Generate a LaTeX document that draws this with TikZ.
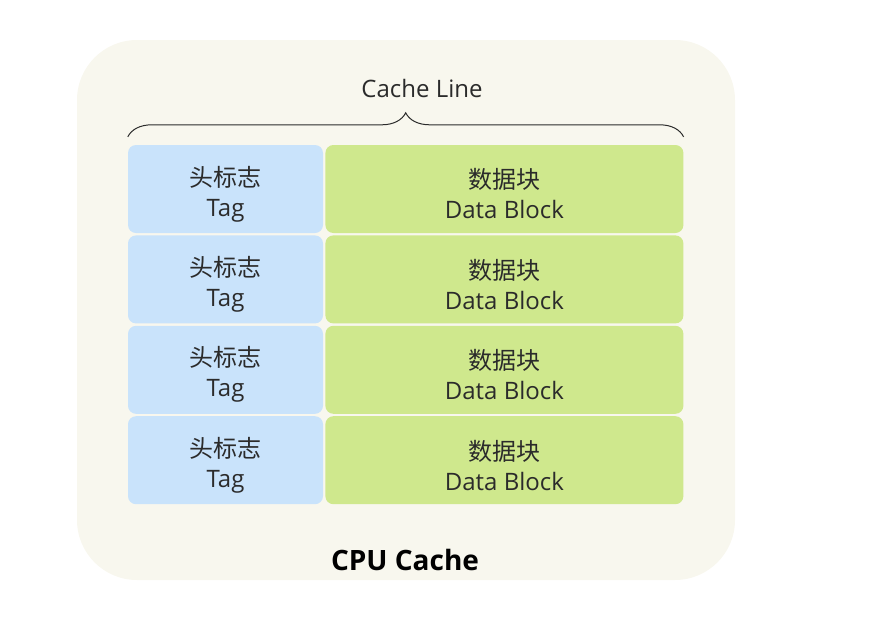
\documentclass[tikz,border=0pt]{standalone}
\usepackage{fontspec}
\setmainfont{Open Sans}
\newfontfamily\cjk{Noto Sans CJK SC}
\usepackage{tikz}
\usetikzlibrary{positioning,decorations.pathreplacing}
\definecolor{cachebg}{HTML}{F8F7EE}
\definecolor{tagblue}{HTML}{C9E3FB}
\definecolor{datagreen}{HTML}{CFE88D}
\definecolor{inktext}{HTML}{2B2B2B}
% chinese name on top, english name below
\newcommand{\celltext}[2]{\rule{0pt}{30pt}{\cjk #1}\\#2}

\begin{document}
\begin{tikzpicture}[x=1pt,y=-1pt,
    cell/.style={rounded corners=8pt, inner sep=0pt, align=center,
        font=\fontsize{24}{30}\selectfont, text=inktext, minimum height=88pt},
    tagcell/.style={cell, fill=tagblue, minimum width=195pt},
    datacell/.style={cell, fill=datagreen, minimum width=358pt}]
    \useasboundingbox (0,0) rectangle (895,638);
    % the cache background
    \fill[cachebg, rounded corners=60pt] (77,40) rectangle (735,580);

    % the lines: tag on the left, data block on the right
    \node[tagcell] (tag1) at (225.5,189) {\celltext{头标志}{Tag}};
    \node[tagcell, below=2pt of tag1] (tag2) {\celltext{头标志}{Tag}};
    \node[tagcell, below=2pt of tag2] (tag3) {\celltext{头标志}{Tag}};
    \node[tagcell, below=2pt of tag3] (tag4) {\celltext{头标志}{Tag}};
    %
    \node[datacell, right=2pt of tag1] (data1) {\celltext{数据块}{Data Block}};
    \node[datacell, right=2pt of tag2] (data2) {\celltext{数据块}{Data Block}};
    \node[datacell, right=2pt of tag3] (data3) {\celltext{数据块}{Data Block}};
    \node[datacell, right=2pt of tag4] (data4) {\celltext{数据块}{Data Block}};

    % the brace over one line
    \coordinate (braceL) at ([yshift=8pt]tag1.north west);
    \coordinate (braceR) at ([yshift=8pt]data1.north east);
    \draw[inktext, line width=1pt, decorate, decoration={brace, amplitude=24pt}]
        (braceL) -- (braceR);
    \node[font=\fontsize{24}{28}\selectfont, text=inktext] (cacheline) at (422,88) {Cache Line};

    % the texts
    \node[font=\bfseries\fontsize{28}{32}\selectfont, text=black] (cpucache) at (405,560) {CPU Cache};
\end{tikzpicture}
\end{document}
